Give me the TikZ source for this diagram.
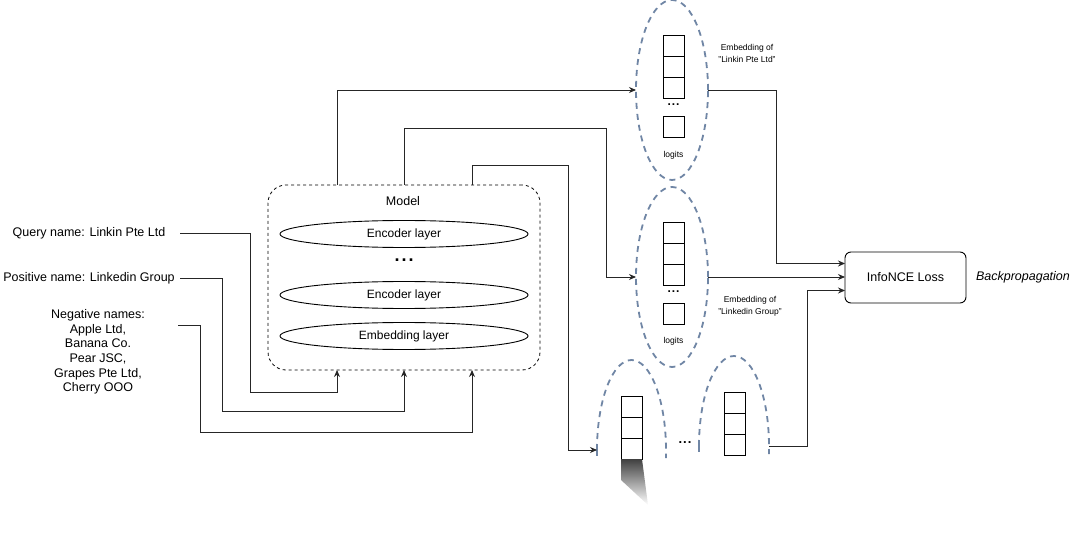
\documentclass[tikz,border=0pt]{standalone}
\usepackage{fontspec}
\setmainfont{Liberation Sans}
\usetikzlibrary{arrows.meta,shapes.geometric}
\definecolor{embc}{RGB}{112,134,165}
\begin{document}
\begin{tikzpicture}[x=1pt,y=-1pt,
 every node/.style={inner sep=0pt, outer sep=0pt},
 wire/.style={line width=0.9pt, black!85},
 arr/.style={wire, -{Stealth[length=7pt,width=6pt]}},
 layer/.style={draw, ellipse, line width=0.9pt, minimum width=248pt, minimum height=27pt, font=\fontsize{12}{14}\selectfont},
 emb/.style={draw=embc, ellipse, dash pattern=on 6pt off 5pt, line width=1.8pt, minimum width=72pt, minimum height=180pt},
 arch/.style={draw=embc, dash pattern=on 6pt off 5pt, line width=1.8pt},
 cell/.style={draw, line width=1pt, minimum width=21pt, minimum height=21pt},
 lbl/.style={font=\fontsize{12.5}{14.7}\selectfont, align=center},
 small/.style={font=\fontsize{8.5}{10}\selectfont, align=center},
 dots/.style={font=\fontsize{18}{18}\selectfont\bfseries}]
\useasboundingbox (0,0) rectangle (1080,540);

% inputs
\node[lbl] (q) at (89,233) {Query name: Linkin Pte Ltd};
\node[lbl] (p) at (89,278) {Positive name: Linkedin Group};
\node[lbl] (n) at (98,352) {Negative names:\\Apple Ltd,\\Banana Co.\\Pear JSC,\\Grapes Pte Ltd,\\Cherry OOO};

% model
\node[draw, dashed, rounded corners=18pt, line width=0.8pt, minimum width=272pt, minimum height=185pt] (model) at (404,277.5) {};
\node[lbl] (mt) at (403,201) {Model};
\node[layer] (l1) at (404,234) {Encoder layer};
\node[dots] (md) at (404,260) {.\kern2pt.\kern2pt.};
\node[layer] (l2) at (404,295) {Encoder layer};
\node[layer] (l3) at (404,336) {Embedding layer};

\coordinate (in1) at (337,370);
\coordinate (in2) at (404,370);
\coordinate (in3) at (472,370);
\coordinate (out1) at (337,185);
\coordinate (out2) at (404,185);
\coordinate (out3) at (472,185);

\draw[arr] (180,233) -| (250,392) -| (in1);
\draw[arr] (180,278) -| (222,411) -| (in2);
\draw[arr] (178,325) -| (200,432) -| (in3);

% embeddings: query
\node[emb] (e1) at (672,90) {};
\node[cell] (a1) at (673.5,46.5) {};
\node[cell] (a2) at (673.5,67.5) {};
\node[cell] (a3) at (673.5,88.5) {};
\node[dots, font=\fontsize{12}{12}\selectfont\bfseries] (ad) at (673.5,105) {.\kern1pt.\kern1pt.};
\node[cell] (a4) at (673.5,127.5) {};
\node[small] (al) at (673.5,155) {logits};
\node[small] (at) at (747,53) {Embedding of\\[2pt]"Linkin Pte Ltd"};

% embeddings: positive
\node[emb] (e2) at (672,277) {};
\node[cell] (b1) at (673.5,233.5) {};
\node[cell] (b2) at (673.5,254.5) {};
\node[cell] (b3) at (673.5,275.5) {};
\node[dots, font=\fontsize{12}{12}\selectfont\bfseries] (bd) at (673.5,292) {.\kern1pt.\kern1pt.};
\node[cell] (b4) at (673.5,314.5) {};
\node[small] (bl) at (673.5,341) {logits};
\node[small] (bt) at (750,306) {Embedding of\\[2pt]"Linkedin Group"};

% embeddings: negatives
\coordinate (c0) at (597,450);
\draw[arch] (c0) arc[start angle=180, end angle=0, x radius=34.5pt, y radius=90pt] -- ++(0,8);
\draw[arch] (c0) -- ++(0,8);
\node[cell] (c1) at (631.5,406.5) {};
\node[cell] (c2) at (631.5,427.5) {};
\node[cell] (c3) at (631.5,448.5) {};
\shade[top color=black!75, bottom color=white] (621,459) -- (642,459) -- (648,505) -- (621,480) -- cycle;
\node[dots, font=\fontsize{13}{13}\selectfont\bfseries] (cd) at (685,443) {.\kern1pt.\kern1pt.};
\coordinate (d0) at (699,446);
\draw[arch] (d0) arc[start angle=180, end angle=0, x radius=35pt, y radius=90pt] coordinate (d9) -- ++(0,8);
\draw[arch] (d0) -- ++(0,8);
\node[cell] (d1) at (734.5,402.5) {};
\node[cell] (d2) at (734.5,423.5) {};
\node[cell] (d3) at (734.5,444.5) {};

% model outputs
\draw[arr] (out1) |- (e1.west);
\draw[arr] (out2) |- (606,128) |- (e2.west);
\draw[arr] (out3) |- (568,165) |- (c0);

% loss
\node[draw, rounded corners=6pt, line width=0.9pt, minimum width=121pt, minimum height=51pt, lbl] (loss) at (905.5,277.5) {InfoNCE Loss};
\node[lbl, font=\fontsize{12.5}{14.7}\selectfont\itshape] (bp) at (1023,277.5) {Backpropagation};

\draw[arr] (e1.east) -| (776,263.5) -- ([yshift=14pt]loss.west);
\draw[arr] (e2.east) -- (loss.west |- e2.east);
\draw[arr] (d9) -| (807,290.5) -- ([yshift=-13pt]loss.west);
\end{tikzpicture}
\end{document}
